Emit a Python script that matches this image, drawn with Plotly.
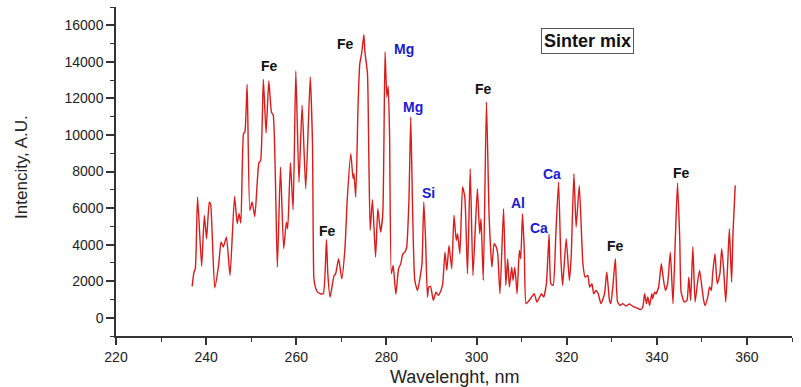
import plotly.graph_objects as go

wavelength = [
    236.9, 237.3, 237.6, 238.1, 239.0, 239.6, 240.1, 240.7, 241.0, 241.9,
    242.8, 243.3, 243.8, 244.5, 245.3, 246.3, 246.9, 247.3, 247.7, 248.3,
    248.6, 249.1, 249.7, 250.2, 250.8, 251.7, 252.1, 252.7, 253.3, 253.9,
    254.5, 254.9, 255.8, 256.5, 257.2, 257.8, 258.1, 258.7, 259.3, 259.9,
    260.6, 261.3, 262.1, 263.1, 263.6, 263.9, 264.2, 264.7, 265.4, 266.0,
    266.7, 267.0, 267.5, 268.4, 268.7, 269.4, 270.1, 270.8, 271.3, 272.1,
    272.6, 272.8, 273.2, 273.7, 274.1, 274.5, 275.0, 275.2, 275.8, 276.1,
    276.4, 276.9, 277.6, 278.1, 278.7, 279.2, 279.7, 280.1, 280.4, 280.7,
    281.1, 281.5, 282.1, 282.7, 283.2, 283.6, 284.1, 284.5, 285.0, 285.4,
    285.8, 286.3, 286.9, 287.6, 287.9, 288.3, 288.7, 289.1, 289.4, 289.8,
    290.4, 291.0, 291.5, 292.1, 292.5, 293.0, 293.4, 293.9, 294.5, 295.0,
    295.5, 295.8, 296.3, 296.9, 297.4, 298.0, 298.6, 299.2, 299.7, 300.2,
    300.7, 301.0, 301.5, 302.2, 302.8, 303.4, 303.9, 304.4, 304.7, 305.2,
    306.0, 306.5, 306.9, 307.3, 307.8, 308.1, 308.5, 309.0, 309.5, 309.8,
    310.2, 310.6, 311.0, 311.7, 312.2, 312.8, 313.4, 314.0, 314.4, 314.9,
    315.5, 316.1, 316.5, 317.0, 317.6, 318.2, 318.7, 319.1, 319.9, 320.6,
    321.0, 321.6, 322.1, 322.8, 323.6, 324.1, 324.7, 325.1, 325.6, 326.0,
    326.5, 327.0, 327.6, 328.4, 328.9, 329.5, 329.8, 330.3, 330.8, 331.3,
    331.9, 332.4, 333.2, 333.9, 334.7, 335.4, 336.4, 336.9, 337.3, 337.7,
    338.0, 338.4, 338.9, 339.1, 339.5, 339.8, 340.4, 341.0, 341.3, 341.9,
    342.4, 343.0, 343.6, 344.1, 344.6, 345.1, 345.4, 346.1, 346.7, 347.1,
    347.5, 348.0, 348.5, 349.1, 349.5, 350.0, 350.4, 350.7, 351.3, 351.7,
    352.1, 352.4, 352.9, 353.4, 354.0, 354.4, 354.8, 355.3, 355.7, 356.1,
    356.6, 356.9, 357.4,
]
intensity = [
    1710, 2500, 2680, 6600, 2820, 5600, 4320, 6330, 6200, 1640,
    2950, 4140, 3870, 4410, 2310, 6640, 5150, 5690, 5180, 10070,
    10160, 12770, 5870, 6330, 5540, 8460, 8610, 13040, 10100, 12950,
    11250, 11070, 2770, 8240, 3780, 5230, 4870, 8480, 5910, 13500,
    7420, 11620, 7060, 13170, 9520, 2200, 1700, 1400, 1310, 1310,
    4270, 2410, 1130, 2310, 2370, 3230, 2130, 3780, 6420, 8980,
    7610, 7880, 6600, 11530, 13900, 14450, 15490, 14630, 13350, 8790,
    4780, 6460, 3320, 5970, 4690, 5690, 14540, 12080, 12660, 10070,
    2410, 2860, 1280, 2680, 2960, 3470, 3590, 3870, 6420, 10980,
    6050, 2040, 1490, 2410, 2960, 6330, 4230, 1130, 1680, 1710,
    950, 1400, 1220, 1490, 1860, 3590, 2590, 3960, 2680, 5600,
    4230, 4600, 3500, 7150, 6600, 2400, 8150, 2310, 4780, 7060,
    4600, 5420, 2040, 11800, 5510, 2770, 4050, 3860, 3500, 1310,
    5970, 1770, 3230, 1680, 2770, 2040, 2770, 1310, 3680, 3230,
    5690, 3680, 770, 950, 1130, 1310, 860, 1130, 1310, 1130,
    1860, 4560, 1860, 1770, 4600, 7420, 3320, 1770, 4320, 2040,
    3320, 7880, 4960, 7240, 2960, 2220, 2310, 1680, 1860, 1310,
    1490, 1310, 770, 1310, 2500, 950, 770, 1860, 3230, 860,
    670, 770, 640, 750, 620, 550, 440, 590, 1310, 770,
    1130, 670, 1310, 1040, 1400, 1310, 1680, 2960, 2410, 1490,
    1860, 3590, 770, 4230, 7370, 4230, 1400, 860, 950, 2220,
    950, 3870, 860, 2040, 2590, 1680, 950, 670, 1130, 1680,
    1490, 2410, 3500, 1860, 2410, 3780, 2770, 860, 2770, 4870,
    1950, 4600, 7240,
]

label_text = ["Fe", "Fe", "Fe", "Mg", "Mg", "Si", "Fe", "Al", "Ca", "Ca", "Fe", "Fe"]
label_x = [254.1, 266.9, 271.0, 283.9, 285.8, 289.3, 301.5, 309.2, 313.8, 316.7, 330.8, 345.4]
label_y = [13750, 4720, 15000, 14720, 11530, 6820, 12500, 6300, 4900, 7880, 3900, 7940]
label_color = ["#111111", "#111111", "#111111", "#1a1ad2", "#1a1ad2", "#1a1ad2",
               "#111111", "#1a1ad2", "#1a1ad2", "#1a1ad2", "#111111", "#111111"]

x_ticks = [220, 240, 260, 280, 300, 320, 340, 360]
y_ticks = [0, 2000, 4000, 6000, 8000, 10000, 12000, 14000, 16000]

FONT = "Arial, Liberation Sans, sans-serif"

fig = go.Figure()
fig.add_trace(go.Scatter(
    x=wavelength, y=intensity, mode="lines",
    line=dict(color="#dc1a1a", width=1.4, shape="spline", smoothing=0.5),
    showlegend=False, hoverinfo="x+y",
))

annotations = []
for t, xv, yv, c in zip(label_text, label_x, label_y, label_color):
    annotations.append(dict(
        x=xv, y=yv, xref="x", yref="y", text="<b>%s</b>" % t, showarrow=False,
        font=dict(family=FONT, size=14, color=c), xanchor="center", yanchor="middle",
    ))
annotations.append(dict(
    x=324.7, y=15150, xref="x", yref="y", text="<b>Sinter mix</b>", showarrow=False,
    font=dict(family=FONT, size=18, color="#111111"), xanchor="center", yanchor="middle",
    bordercolor="#555555", borderwidth=1, borderpad=2, bgcolor="white",
))
annotations.append(dict(
    x=0.5, y=-0.125, xref="paper", yref="paper", text="Wavelenght, nm", showarrow=False,
    font=dict(family=FONT, size=18, color="#222222"), xanchor="center", yanchor="middle",
))
annotations.append(dict(
    x=-0.139, y=0.514, xref="paper", yref="paper", text="Intencity, A.U.", showarrow=False,
    textangle=-90,
    font=dict(family=FONT, size=17, color="#222222"), xanchor="center", yanchor="middle",
))

fig.update_layout(
    width=801, height=387,
    margin=dict(l=116, r=9, t=7, b=51),
    paper_bgcolor="white", plot_bgcolor="white",
    font=dict(family=FONT, size=14, color="#222222"),
    annotations=annotations,
    xaxis=dict(
        range=[220, 370], tickvals=x_ticks, ticktext=[str(v) for v in x_ticks],
        showgrid=False, zeroline=False, showline=True, linecolor="#333333", linewidth=1.5,
        ticks="outside", ticklen=7, tickwidth=1.5, tickcolor="#333333",
        minor=dict(ticks="outside", dtick=10, tick0=220, ticklen=4, tickwidth=1.3, tickcolor="#333333"),
        tickfont=dict(family=FONT, size=14, color="#222222"),
    ),
    yaxis=dict(
        range=[-1000, 17000], tickvals=y_ticks, ticktext=[str(v) for v in y_ticks],
        showgrid=False, zeroline=False, showline=True, linecolor="#333333", linewidth=1.5,
        ticks="outside", ticklen=8, tickwidth=1.5, tickcolor="#333333",
        minor=dict(ticks="outside", dtick=1000, tick0=0, ticklen=4, tickwidth=1.3, tickcolor="#333333"),
        tickfont=dict(family=FONT, size=14, color="#222222"),
    ),
)

fig.write_html(
    "out.html",
    config={"displayModeBar": False},
    post_script="document.body.style.margin='0';document.body.style.padding='0';document.body.style.overflow='hidden';",
)
